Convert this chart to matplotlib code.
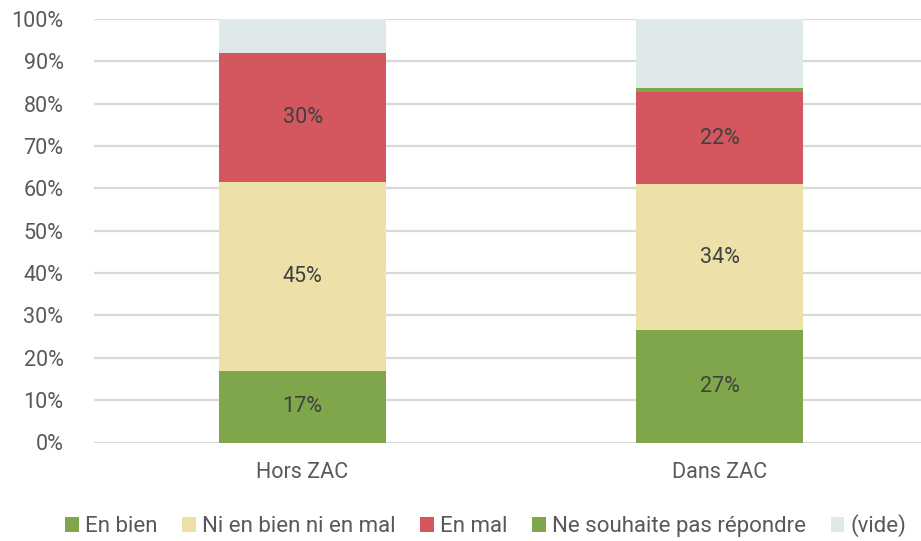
import matplotlib
matplotlib.use("Agg")
import matplotlib.pyplot as plt
from matplotlib.patches import Patch

plt.rcParams['font.family'] = ['Roboto', 'DejaVu Sans']

categories = ["Hors ZAC", "Dans ZAC"]
series_names = ["En bien", "Ni en bien ni en mal", "En mal", "Ne souhaite pas répondre", "(vide)"]
en_bien = [16.8, 26.6]
ni_bien_ni_mal = [44.7, 34.4]
en_mal = [30.4, 21.8]
ne_souhaite = [0.0, 0.9]
vide = [8.1, 16.3]
y_ticks = [0, 10, 20, 30, 40, 50, 60, 70, 80, 90, 100]

series = [en_bien, ni_bien_ni_mal, en_mal, ne_souhaite, vide]
colors = ["#7FA64B", "#EDE0A8", "#D45760", "#7FA64B", "#E0E9EA"]
labelled = [True, True, True, False, False]

W, H = 921, 541
fig = plt.figure(figsize=(W / 100, H / 100), dpi=100)
ax = fig.add_axes([94 / W, (H - 442.5) / H, (W - 94) / W, (442.5 - 19) / H])

x = list(range(len(categories)))
bottom = [0.0] * len(categories)
for vals, col, lab in zip(series, colors, labelled):
    bars = ax.bar(x, vals, width=0.4, bottom=bottom, color=col, zorder=3, linewidth=0)
    if lab:
        ax.bar_label(bars, labels=[f"{round(v)}%" for v in vals], label_type='center',
                     color="#404040", fontsize=15.5)
    bottom = [b + v for b, v in zip(bottom, vals)]

ax.set_xlim(-0.5, -0.5 + (W - 94) / 417)
ax.set_ylim(0, 100)
ax.set_yticks(y_ticks)
ax.set_yticklabels([f"{t}%" for t in y_ticks])
ax.set_xticks(x)
ax.set_xticklabels(categories)
ax.tick_params(axis='both', length=0, colors="#595959", labelsize=15.5)
ax.tick_params(axis='y', pad=22)
ax.tick_params(axis='x', pad=14)
ax.grid(axis='y', color="#D9D9D9", linewidth=1.6, zorder=0)
for s in ax.spines.values():
    s.set_visible(False)

handles = [Patch(facecolor=c, edgecolor='none') for c in colors]
fig.legend(handles, series_names, loc='center', bbox_to_anchor=(486 / W, 1 - 526 / H),
           ncol=5, frameon=False, labelcolor="#595959",
           handlelength=0.6, handleheight=0.6, handletextpad=0.3, columnspacing=1.1,
           prop={'size': 16})

fig.savefig("out.png", dpi=100)
